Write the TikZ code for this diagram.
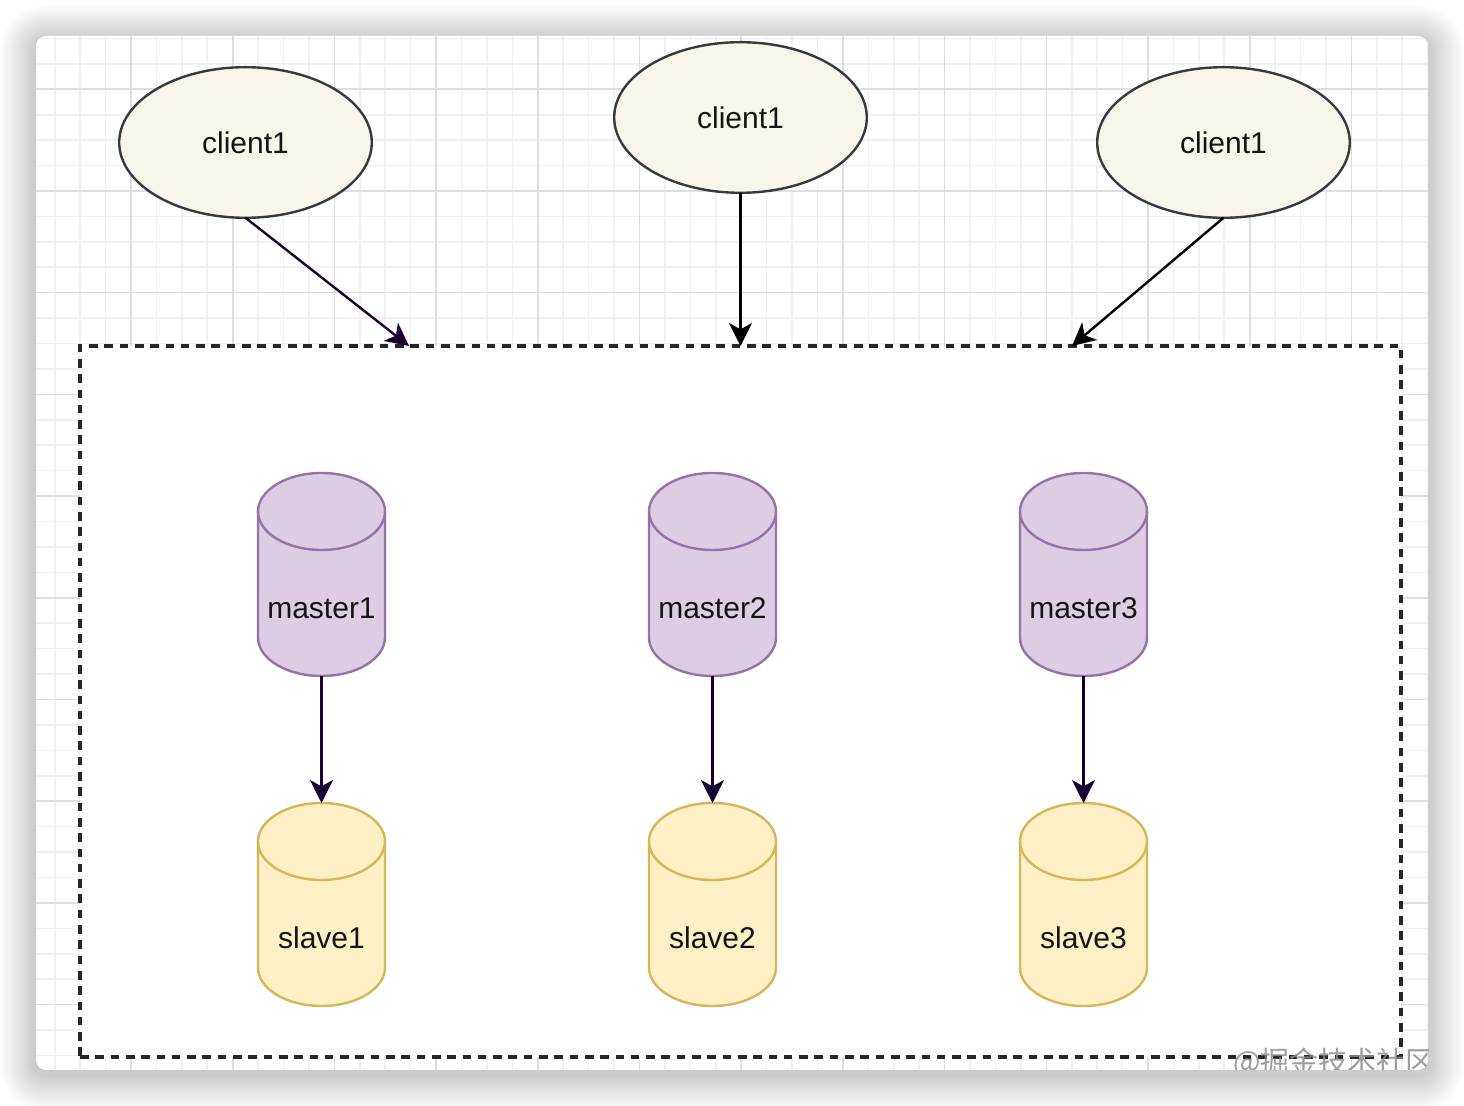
\documentclass[tikz,border=0pt]{standalone}
\usepackage{fontspec}
\setmainfont{Liberation Sans}
\newfontfamily\cjkfont{Noto Sans CJK SC}
\usetikzlibrary{shapes.geometric,arrows.meta}
\definecolor{cfill}{HTML}{F8F6EA}
\definecolor{cdraw}{HTML}{36393D}
\definecolor{pfill}{HTML}{DDCDE3}
\definecolor{pdraw}{HTML}{9673A6}
\definecolor{yfill}{HTML}{FEF0C6}
\definecolor{ydraw}{HTML}{D6B656}
\definecolor{darrow}{HTML}{190033}
\definecolor{gminor}{HTML}{F1F1F1}
\definecolor{gmajor}{HTML}{DEDEDE}
\newcommand\dbcyl[6]{%
  \filldraw[fill=#4,draw=#5,line width=1.2pt]
    (#2-63.5,#3+38.5) -- (#2-63.5,#3+164.5)
    arc[start angle=180,end angle=360,x radius=31.75pt,y radius=19.25pt]
    -- (#2+63.5,#3+38.5)
    arc[start angle=0,end angle=180,x radius=31.75pt,y radius=19.25pt] -- cycle;
  \draw[draw=#5,line width=1.2pt] (#2-63.5,#3+38.5)
    arc[start angle=180,end angle=360,x radius=31.75pt,y radius=19.25pt];
  \node[inner sep=0,outer sep=0,minimum width=63.5pt,minimum height=101.5pt] (#1) at (#2,#3+101.5) {};
  \node[lbl] (#1-t) at (#2,#3+135) {#6};
}
\begin{document}
\begin{tikzpicture}[x=0.5pt,y=-0.5pt,
  lbl/.style={inner sep=0,font=\fontsize{15pt}{18pt}\selectfont,text=black!92},
  client/.style={ellipse,draw=cdraw,fill=cfill,line width=1.2pt,inner sep=0,outer sep=0,
    minimum width=126.3pt,minimum height=75.3pt,font=\fontsize{15pt}{18pt}\selectfont,text=black!92},
  arr/.style={line width=1.2pt,-{Stealth[length=11.5pt,width=11.5pt,inset=3.2pt]}},
]
\useasboundingbox (0,0) rectangle (1464,1106);
\fill[white] (0,0) rectangle (1464,1106);
% shadow
\foreach \i in {1,...,26}{
  \fill[black,opacity=0.008,rounded corners=5pt+0.7pt*\i]
    (36-1.4*\i,36-1.4*\i+5) rectangle (1428+1.4*\i,1070+1.4*\i+5);
}
% window
\fill[white,rounded corners=5pt] (36,36) rectangle (1428,1070);
\begin{scope}
\clip[rounded corners=5pt] (36,36) rectangle (1428,1070);
\foreach \k in {-3,...,51}{
  \draw[gminor,line width=0.8pt] (131+25.425*\k,36) -- (131+25.425*\k,1070);
}
\foreach \k in {-2,...,38}{
  \draw[gminor,line width=0.8pt] (36,89.3+25.425*\k) -- (1428,89.3+25.425*\k);
}
\foreach \k in {0,...,12}{
  \draw[gmajor,line width=0.8pt] (131+101.7*\k,36) -- (131+101.7*\k,1070);
}
\foreach \k in {0,...,9}{
  \draw[gmajor,line width=0.8pt] (36,89.3+101.7*\k) -- (1428,89.3+101.7*\k);
}
% dashed container
\node[draw=black!85,fill=white,line width=1.6pt,dash pattern=on 4.3pt off 3.35pt,
  inner sep=0,outer sep=0,minimum width=660.5pt,minimum height=355.5pt] (box) at (740.5,701.5) {};
% watermark
\node[anchor=base west,inner sep=0,text=black!45,opacity=0.85,
  font=\cjkfont\fontsize{14.5pt}{17pt}\selectfont] (wm) at (1233,1073) {@掘金技术社区};
\end{scope}
% clients
\node[client] (c1) at (245.5,142.5) {client1};
\node[client] (c2) at (740.5,117.5) {client1};
\node[client] (c3) at (1223.5,142.5) {client1};
\coordinate (t1) at (409,346);
\coordinate (t2) at (740.5,346);
\coordinate (t3) at (1072,346);
\draw[arr,darrow] (c1.south) -- (t1);
\draw[arr,black] (c2.south) -- (t2);
\draw[arr,black] (c3.south) -- (t3);
% cylinders
\dbcyl{m1}{321.5}{473}{pfill}{pdraw}{master1}
\dbcyl{m2}{712.5}{473}{pfill}{pdraw}{master2}
\dbcyl{m3}{1083.5}{473}{pfill}{pdraw}{master3}
\dbcyl{s1}{321.5}{803}{yfill}{ydraw}{slave1}
\dbcyl{s2}{712.5}{803}{yfill}{ydraw}{slave2}
\dbcyl{s3}{1083.5}{803}{yfill}{ydraw}{slave3}
\draw[arr,darrow] (m1.south) -- (s1.north);
\draw[arr,darrow] (m2.south) -- (s2.north);
\draw[arr,darrow] (m3.south) -- (s3.north);
\end{tikzpicture}
\end{document}
